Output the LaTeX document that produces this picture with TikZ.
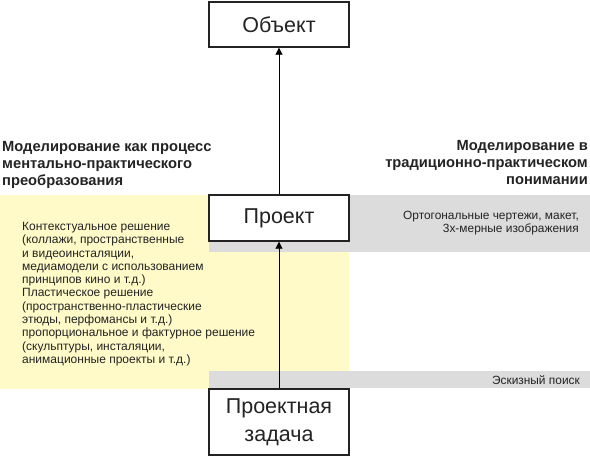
\documentclass[tikz,border=0pt]{standalone}
\usepackage{fontspec}
\setmainfont{Liberation Sans}
\usetikzlibrary{arrows.meta}
\definecolor{paleyellow}{RGB}{255,250,200}
\definecolor{stripgrey}{RGB}{220,220,220}
\definecolor{inkgrey}{RGB}{35,35,35}
\tikzset{
  mainbox/.style={draw=inkgrey, line width=1.4pt, fill=white, minimum width=140pt, inner sep=0pt, font=\fontsize{21.5}{28}\selectfont, align=center, text=inkgrey},
  heading/.style={font=\fontsize{14.7}{16.9}\selectfont\bfseries, inner sep=0pt, text=inkgrey},
  bodytext/.style={font=\fontsize{12}{13.3}\selectfont, inner sep=0pt, text=inkgrey},
  striptext/.style={font=\fontsize{11.9}{13.4}\selectfont, inner sep=0pt, text=inkgrey},
  link/.style={draw=black, line width=0.9pt, -{Triangle[length=7pt,width=7pt]}}
}
\begin{document}
\begin{tikzpicture}[x=1pt,y=-1pt]
\useasboundingbox (0,0) rectangle (590,456);
% backgrounds
\fill[paleyellow] (0,195) rectangle (349,389);
\fill[stripgrey] (209,195) rectangle (590,252);
\fill[stripgrey] (209,371) rectangle (590,388);
% boxes
\node[mainbox, minimum height=45pt] (obj) at (279,24.5) {Объект};
\node[mainbox, minimum height=46pt] (proj) at (279,218) {Проект};
\node[mainbox, minimum height=66pt] (task) at (279,422) {Проектная\\задача};
% connectors
\draw[link] (task.north) -- (proj.south);
\draw[link] (proj.north) -- (obj.south);
% headings
\node[heading, anchor=north west, align=left] (hl) at (2,141) {Моделирование как процесс\\ментально-практического\\преобразования};
\node[heading, anchor=north east, align=right] (hr) at (588,140) {Моделирование в\\традиционно-практическом\\понимании};
% texts
\node[striptext, anchor=north east, align=right] (ortho) at (579,210.5) {Ортогональные чертежи, макет,\\3х-мерные изображения};
\node[bodytext, anchor=north west, align=left] (yel) at (22,222) {Контекстуальное решение\\(коллажи, пространственные\\и видеоинсталяции,\\медиамодели с использованием\\принципов кино и т.д.)\\Пластическое решение\\(пространственно-пластические\\этюды, перфомансы и т.д.)\\пропорциональное и фактурное решение\\(скульптуры, инсталяции,\\анимационные проекты и т.д.)};
\node[striptext, anchor=east] (sketch) at (580,380) {Эскизный поиск};
\end{tikzpicture}
\end{document}
